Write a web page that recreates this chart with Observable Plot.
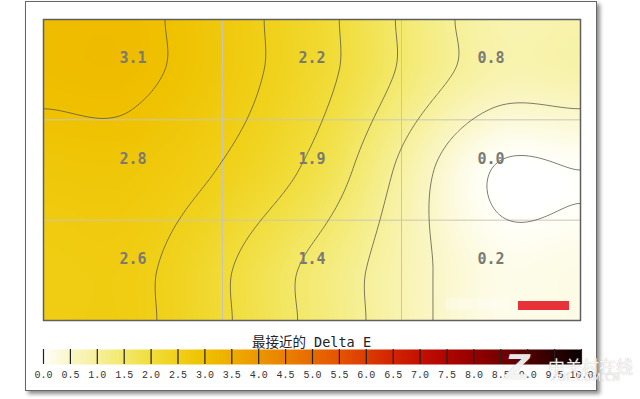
<!DOCTYPE html>
<html>
<head>
<meta charset="utf-8">
<script src="https://cdn.jsdelivr.net/npm/d3@7"></script>
<script src="https://cdn.jsdelivr.net/npm/@observablehq/plot@0.6"></script>
<style>
  html, body { margin: 0; padding: 0; background: #fff; }
  #wrap { position: relative; width: 640px; height: 399px; overflow: hidden; background: #fff; }
  #outer { position: absolute; left: 25px; top: 1px; width: 570px; height: 388px; border: 1px solid #666; background: #fff;
           box-shadow: 3px 3px 4px rgba(0,0,0,0.45); }
  .abs { position: absolute; left: 0; }
  #title { position: absolute; left: 43px; width: 537px; top: 331px; text-align: center;
           font: 13.5px "DejaVu Sans Mono", "Noto Sans CJK SC", monospace; color: #222; }
  #redbox { position: absolute; left: 518px; top: 301px; width: 51px; height: 9px; background: #e8323a; }
  #wbox { position: absolute; left: 446px; top: 298px; width: 64px; height: 12px; background: rgba(255,255,255,0.3); }
  #wm1 { position: absolute; left: 548px; top: 353px; font: 17px "Noto Sans CJK SC", sans-serif; color: rgba(255,255,255,0.92);
         text-shadow: 0 0 1px rgba(120,120,120,0.6); }
  #wm2 { position: absolute; left: 551px; top: 372px; font: 10px "DejaVu Sans", sans-serif; color: rgba(255,255,255,0.92);
         text-shadow: 0 0 1px rgba(120,120,120,0.6); letter-spacing: 0.5px; }
  #wmz { position: absolute; left: 505px; top: 347px; font: bold 34px "DejaVu Sans", sans-serif; color: rgba(255,255,255,0.9);
         text-shadow: 0 0 1px rgba(120,120,120,0.6); transform: skewX(-12deg); }
</style>
</head>
<body>
<div id="wrap">
  <div id="outer"></div>
  <div id="main" class="abs" style="top:0"></div>
  <div id="wbox"></div>
  <div id="redbox"></div>
  <div id="title">最接近的 Delta E</div>
  <div id="legend" class="abs" style="top:346px"></div>
  <div id="wmz">Z</div>
  <div id="wm1">中关村在线</div>
  <div id="wm2">ZOL.COM.CN</div>
</div>
<script>
// ---- data (3x3 measurement grid, top row first) ----
const rowTop    = [3.1, 2.2, 0.8];
const rowMiddle = [2.8, 1.9, 0.0];
const rowBottom = [2.6, 1.4, 0.2];
const rows = [rowTop, rowMiddle, rowBottom];

const legendTicks = [0.0, 0.5, 1.0, 1.5, 2.0, 2.5, 3.0, 3.5, 4.0, 4.5, 5.0,
                     5.5, 6.0, 6.5, 7.0, 7.5, 8.0, 8.5, 9.0, 9.5, 10.0];
const legendColors = ["#fffffa", "#faf6c6", "#f6f099", "#f3e86a", "#f1dd3c", "#f0d018", "#efc100",
                      "#eead00", "#ec9700", "#ea8000", "#e86a00", "#e45400", "#dc3c00", "#d22400",
                      "#c41000", "#ae0500", "#940000", "#760000", "#520000", "#2c0000", "#080000"];
const contourLevels = [0.0, 0.5, 1.0, 1.5, 2.0, 2.5, 3.0, 3.5, 4.0];

// ---- smooth interpolation of the grid (rendering only) ----
const K = 0.5;
function herm(p0, p1, m0, m1, u) {
  const u2 = u * u, u3 = u2 * u;
  return (2*u3 - 3*u2 + 1) * p0 + (u3 - 2*u2 + u) * m0 + (-2*u3 + 3*u2) * p1 + (u3 - u2) * m1;
}
function interp1(v, t) {
  const m = [K * (v[1] - v[0]), (v[2] - v[0]) / 2, K * (v[2] - v[1])];
  if (t <= 0) { const u = Math.max(0, (t + 0.5) / 0.5); return herm(v[0], v[0], 0, m[0] * 0.5, u); }
  if (t >= 2) { const u = Math.min(1, (t - 2) / 0.5); return herm(v[2], v[2], m[2] * 0.5, 0, u); }
  const i = Math.min(1, Math.floor(t)), u = t - i;
  return herm(v[i], v[i + 1], m[i], m[i + 1], u);
}
function field(x, y) {
  const t = x - 0.5, s = y - 0.5;
  const col = rows.map(r => interp1(r, t));
  return interp1(col, s);
}

const nC = rowTop.length, nR = rows.length;
const cells = rows.flatMap((r, i) => r.map((v, j) => ({x: j + 0.5, y: i + 0.5, v})));
const colorScale = {type: "linear", domain: legendTicks, range: legendColors, interpolate: "rgb"};

const main = Plot.plot({
  width: 640, height: 330,
  marginLeft: 43, marginRight: 60, marginTop: 19, marginBottom: 10,
  x: {domain: [0, nC], axis: null},
  y: {domain: [0, nR], reverse: true, axis: null},
  color: colorScale,
  style: {background: "transparent"},
  marks: [
    Plot.raster({x1: 0, x2: nC, y1: 0, y2: nR, fill: field, pixelSize: 1}),
    Plot.ruleX(d3.range(1, nC), {stroke: "#c9c7b4", strokeWidth: 1}),
    Plot.ruleY(d3.range(1, nR), {stroke: "#c9c7b4", strokeWidth: 1}),
    Plot.contour({x1: 0, x2: nC, y1: 0, y2: nR, value: field, thresholds: contourLevels,
                  fill: "none", stroke: "#55544a", strokeWidth: 0.9, strokeOpacity: 0.85, pixelSize: 1}),
    Plot.text(cells, {x: "x", y: "y", text: d => d.v.toFixed(1), dy: -11,
                      fill: "#7a7a72", fontSize: 15, fontWeight: "bold",
                      fontFamily: "DejaVu Sans Mono, monospace"}),
    Plot.frame({stroke: "#5f5f5f", strokeWidth: 1.5})
  ]
});
document.getElementById("main").appendChild(main);

const legend = Plot.plot({
  width: 640, height: 40,
  marginLeft: 43, marginRight: 59, marginTop: 3, marginBottom: 22,
  x: {domain: [0, 10], axis: null},
  y: {domain: [0, 1], axis: null},
  color: colorScale,
  style: {background: "transparent"},
  marks: [
    Plot.raster({x1: 0, x2: 10, y1: 0, y2: 1, fill: (x, y) => x, pixelSize: 1}),
    Plot.tickX(legendTicks, {x: d => d, stroke: "#222", strokeWidth: 1.2}),
    Plot.axisX(legendTicks, {anchor: "bottom", tickSize: 0, tickPadding: 6, tickFormat: d => d.toFixed(1),
                             fontSize: 10, fontFamily: "Liberation Mono, monospace", fill: "#333"})
  ]
});
document.getElementById("legend").appendChild(legend);
</script>
</body>
</html>
